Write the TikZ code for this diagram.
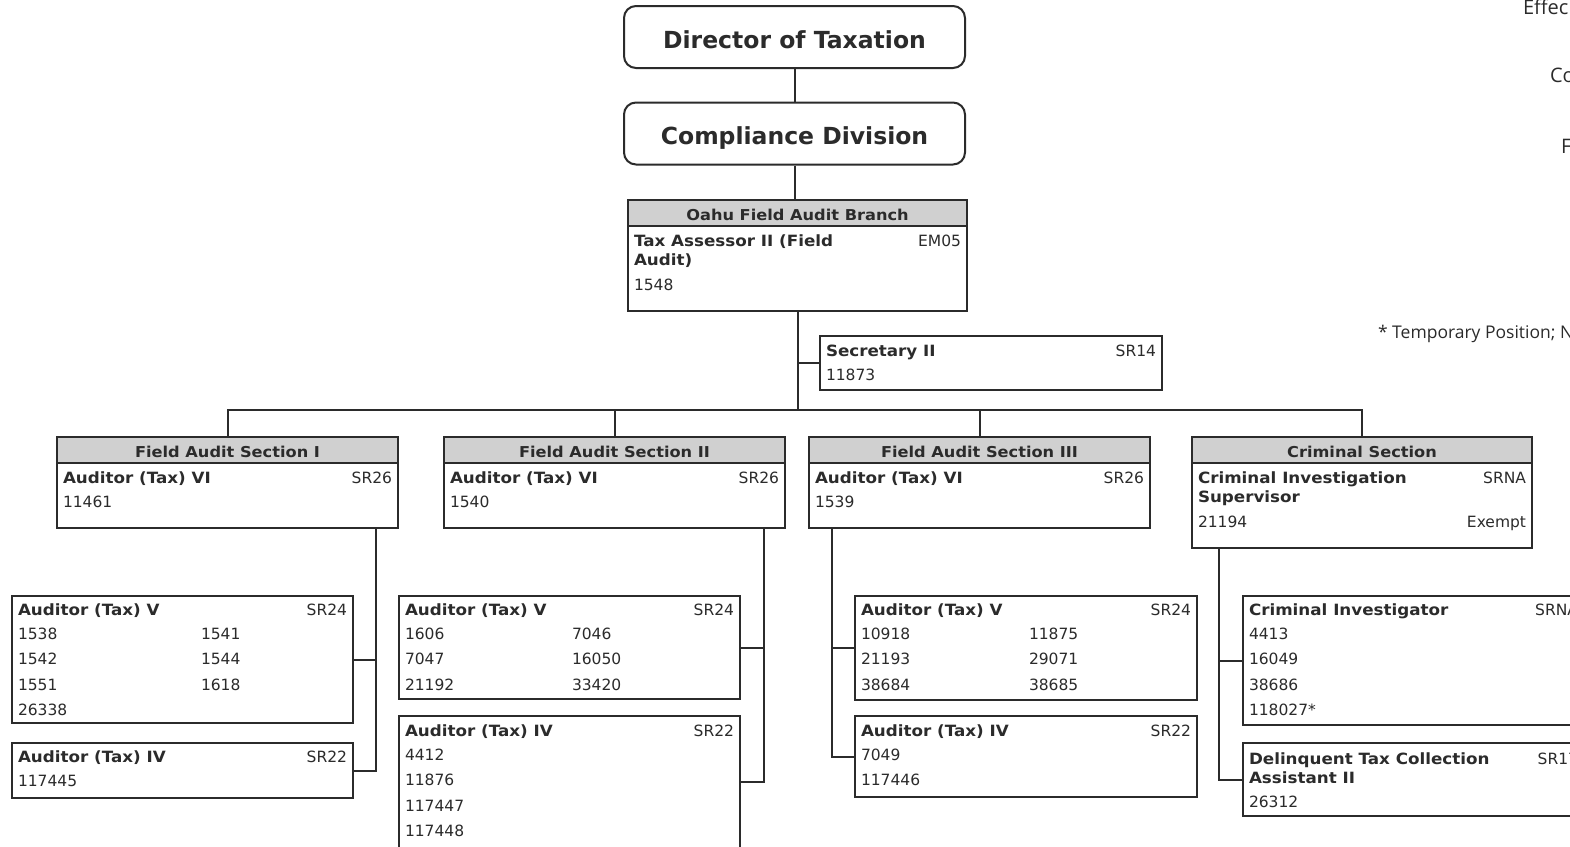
\documentclass[tikz,border=0pt]{standalone}
\usepackage{fontspec}
\setmainfont{DejaVu Sans}
\newfontfamily\widebold[FakeStretch=1.08]{DejaVu Sans}
\newfontfamily\notefont{Open Sans}
\usepackage{tikz}
\usetikzlibrary{calc}

\definecolor{ink}{HTML}{2B2B2B}
\definecolor{band}{HTML}{D0D0D0}

\tikzset{
  topbox/.style={draw,rounded corners=12pt,minimum width=341pt,minimum height=62pt,
    text height=22pt,text depth=0pt,font=\bfseries\fontsize{23.5}{28}\selectfont},
  headbox/.style={draw,fill=band,anchor=north west,inner sep=0pt,minimum height=26pt,
    text height=15pt,text depth=0pt,font=\widebold\bfseries\fontsize{15}{18}\selectfont},
  posbox/.style={draw,anchor=north west,inner sep=0pt},
  title/.style={anchor=base west,inner sep=0pt,font=\widebold\bfseries\fontsize{15.5}{19}\selectfont},
  grade/.style={anchor=base east,inner sep=0pt,font=\fontsize{15.5}{19}\selectfont},
  num/.style={anchor=base west,inner sep=0pt,font=\fontsize{15.5}{19}\selectfont},
  note/.style={anchor=west,inner sep=0pt,font=\notefont\fontsize{20}{24}\selectfont},
  link/.style={line width=2pt},
}

\begin{document}
\begin{tikzpicture}[x=1pt,y=-1pt,line width=2pt,ink]
\useasboundingbox (0,0) rectangle (1570,846);
\fill[white] (0,0) rectangle (1570,846);
\clip (0,0) rectangle (1570,846);

\node[topbox] (dir) at (794.5,37) {Director of Taxation};
\node[topbox] (comp) at (794.5,133.5) {Compliance Division};

% branch
\node[headbox,minimum width=339pt] (branchh) at (627,199) {Oahu Field Audit Branch};
\node[posbox,minimum width=339pt,minimum height=85pt] (branch) at (627,225) {};
\node[title] (branch-t1) at ($(branch.north west)+(6,21)$) {Tax Assessor II (Field};
\node[title] (branch-t2) at ($(branch.north west)+(6,40)$) {Audit)};
\node[grade] (branch-g) at ($(branch.north east)+(-6,21)$) {EM05};
\node[num] (branch-n) at ($(branch.north west)+(6,65)$) {1548};

\node[posbox,minimum width=342pt,minimum height=54pt] (sec) at (819,335) {};
\node[title] (sec-t) at ($(sec.north west)+(6,21)$) {Secretary II};
\node[grade] (sec-g) at ($(sec.north east)+(-6,21)$) {SR14};
\node[num] (sec-n) at ($(sec.north west)+(6,45)$) {11873};

% sections
\node[headbox,minimum width=341pt] (s1h) at (56,436) {Field Audit Section I};
\node[headbox,minimum width=341pt] (s2h) at (443,436) {Field Audit Section II};
\node[headbox,minimum width=341pt] (s3h) at (808,436) {Field Audit Section III};
\node[headbox,minimum width=340pt] (crh) at (1191,436) {Criminal Section};
\foreach \s/\x/\n in {s1/56/11461,s2/443/1540,s3/808/1539}{
  \node[posbox,minimum width=341pt,minimum height=65pt] (\s) at (\x,462) {};
  \node[title] (\s-t) at ($(\s.north west)+(6,21)$) {Auditor (Tax) VI};
  \node[grade] (\s-g) at ($(\s.north east)+(-6,21)$) {SR26};
  \node[num] (\s-n) at ($(\s.north west)+(6,45)$) {\n};
}
\node[posbox,minimum width=340pt,minimum height=85pt] (cr) at (1191,462) {};
\node[title] (cr-t1) at ($(cr.north west)+(6,21)$) {Criminal Investigation};
\node[title] (cr-t2) at ($(cr.north west)+(6,40)$) {Supervisor};
\node[grade] (cr-g) at ($(cr.north east)+(-6,21)$) {SRNA};
\node[num] (cr-n) at ($(cr.north west)+(6,65)$) {21194};
\node[grade] (cr-e) at ($(cr.north east)+(-6,65)$) {Exempt};

% section I
\node[posbox,minimum width=341pt,minimum height=127pt] (s1a) at (11,595) {};
\node[title] (s1a-t) at ($(s1a.north west)+(6,20)$) {Auditor (Tax) V};
\node[grade] (s1a-g) at ($(s1a.north east)+(-6,20)$) {SR24};
\foreach \a/\b [count=\i from 0] in {1538/1541,1542/1544,1551/1618}
  \path ($(s1a.north west)+(6,44+25.5*\i)$) node[num] (s1a-a\i) {\a} ++(183,0) node[num] (s1a-b\i) {\b};
\node[num] (s1a-n) at ($(s1a.north west)+(6,120.5)$) {26338};
\node[posbox,minimum width=341pt,minimum height=55pt] (s1b) at (11,742) {};
\node[title] (s1b-t) at ($(s1b.north west)+(6,20)$) {Auditor (Tax) IV};
\node[grade] (s1b-g) at ($(s1b.north east)+(-6,20)$) {SR22};
\node[num] (s1b-n) at ($(s1b.north west)+(6,44)$) {117445};

% section II
\node[posbox,minimum width=341pt,minimum height=103pt] (s2a) at (398,595) {};
\node[title] (s2a-t) at ($(s2a.north west)+(6,20)$) {Auditor (Tax) V};
\node[grade] (s2a-g) at ($(s2a.north east)+(-6,20)$) {SR24};
\foreach \a/\b [count=\i from 0] in {1606/7046,7047/16050,21192/33420}
  \path ($(s2a.north west)+(6,44+25.5*\i)$) node[num] (s2a-a\i) {\a} ++(167,0) node[num] (s2a-b\i) {\b};
\node[posbox,minimum width=341pt,minimum height=132pt] (s2b) at (398,715) {};
\node[title] (s2b-t) at ($(s2b.north west)+(6,21)$) {Auditor (Tax) IV};
\node[grade] (s2b-g) at ($(s2b.north east)+(-6,21)$) {SR22};
\foreach \a [count=\i from 0] in {4412,11876,117447,117448}
  \node[num] (s2b-\i) at ($(s2b.north west)+(6,45+25.5*\i)$) {\a};

% section III
\node[posbox,minimum width=342pt,minimum height=104pt] (s3a) at (854,595) {};
\node[title] (s3a-t) at ($(s3a.north west)+(6,20)$) {Auditor (Tax) V};
\node[grade] (s3a-g) at ($(s3a.north east)+(-6,20)$) {SR24};
\foreach \a/\b [count=\i from 0] in {10918/11875,21193/29071,38684/38685}
  \path ($(s3a.north west)+(6,44+25.5*\i)$) node[num] (s3a-a\i) {\a} ++(168,0) node[num] (s3a-b\i) {\b};
\node[posbox,minimum width=342pt,minimum height=81pt] (s3b) at (854,715) {};
\node[title] (s3b-t) at ($(s3b.north west)+(6,21)$) {Auditor (Tax) IV};
\node[grade] (s3b-g) at ($(s3b.north east)+(-6,21)$) {SR22};
\foreach \a [count=\i from 0] in {7049,117446}
  \node[num] (s3b-\i) at ($(s3b.north west)+(6,45+25.5*\i)$) {\a};

% criminal
\node[posbox,minimum width=341pt,minimum height=129pt] (cra) at (1242,595) {};
\node[title] (cra-t) at ($(cra.north west)+(6,20)$) {Criminal Investigator};
\node[grade] (cra-g) at ($(cra.north east)+(-6,20)$) {SRNA};
\foreach \a [count=\i from 0] in {4413,16049,38686,118027*}
  \node[num] (cra-\i) at ($(cra.north west)+(6,44+25.5*\i)$) {\a};
\node[posbox,minimum width=341pt,minimum height=73pt] (crb) at (1242,742) {};
\node[title] (crb-t1) at ($(crb.north west)+(6,22)$) {Delinquent Tax Collection};
\node[title] (crb-t2) at ($(crb.north west)+(6,41)$) {Assistant II};
\node[grade] (crb-g) at ($(crb.north east)+(-6,22)$) {SR17};
\node[num] (crb-n) at ($(crb.north west)+(6,65)$) {26312};

% notes
\node[note] (eff) at (1522,7) {Effec};
\node[note] (co) at (1549,75) {Co};
\node[note] (fn) at (1560,146) {F};
\node[note,font=\notefont\fontsize{17.5}{21}\selectfont] (temp) at (1377,334) {* Temporary Position; N};

% links
\draw[link] (dir) -- (comp);
\draw[link] (comp.south) -- (comp.south |- branchh.north);
\coordinate (bus) at (branch.south |- 0,410);
\draw[link] (branch.south) -- (bus);
\draw[link] (sec.west) -- (sec.west -| branch.south);
\draw[link] (s1h.north) |- (bus) -| (crh.north);
\draw[link] (s2h.north) -- (s2h.north |- bus);
\draw[link] (s3h.north) -- (s3h.north |- bus);

\coordinate (s1v) at ($(s1b.east)+(22,0)$);
\draw[link] (s1a.east) -- (s1a.east -| s1v);
\draw[link] (s1b.east) -- (s1v) -- (s1v |- s1.south);
\coordinate (s2v) at ($(s2b.east)+(23,0)$);
\draw[link] (s2a.east) -- (s2a.east -| s2v);
\draw[link] (s2b.east) -- (s2v) -- (s2v |- s2.south);
\coordinate (s3v) at ($(s3b.west)+(-22,0)$);
\draw[link] (s3a.west) -- (s3a.west -| s3v);
\draw[link] (s3b.west) -- (s3v) -- (s3v |- s3.south);
\coordinate (crv) at ($(crb.west)+(-23,0)$);
\draw[link] (cra.west) -- (cra.west -| crv);
\draw[link] (crb.west) -- (crv) -- (crv |- cr.south);
\end{tikzpicture}
\end{document}
